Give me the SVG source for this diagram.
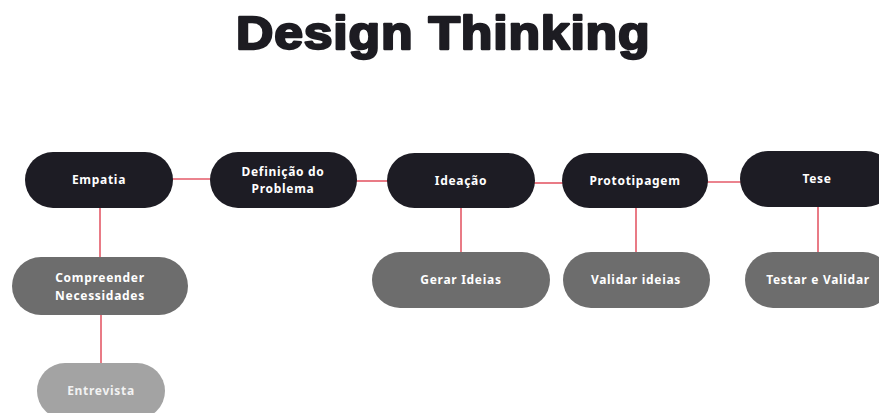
<svg xmlns="http://www.w3.org/2000/svg" width="879" height="413" viewBox="0 0 879 413">
  <style>
    .title { font-family: "Liberation Sans", Arial, sans-serif; font-weight: 700; font-size: 47px; fill: #1d1c22; stroke: #1d1c22; stroke-width: 2.4; stroke-linejoin: round; }
    .stage rect { fill: #1d1c24; }
    .task rect { fill: #6d6d6d; }
    .detail rect { fill: #a3a3a3; }
    .lbl { font-family: "Noto Sans", "DejaVu Sans", sans-serif; font-weight: 700; font-size: 12px; letter-spacing: 0.7px; fill: #ffffff; text-anchor: middle; }
    .detail .lbl { fill: #f2f2f2; }
    .links line { stroke: #e45a68; stroke-width: 1.6; }
  </style>
  <rect width="879" height="413" fill="#ffffff"/>

  <!-- heading, widened glyphs for a heavier look -->
  <text class="title" transform="translate(236,49) scale(1.1,1)" x="0" y="0" textLength="376" lengthAdjust="spacing">Design Thinking</text>

  <!-- connectors -->
  <g class="links">
    <line x1="172" y1="179" x2="211" y2="179"/>
    <line x1="356" y1="181" x2="388" y2="181"/>
    <line x1="534" y1="183" x2="563" y2="183"/>
    <line x1="707" y1="182" x2="741" y2="182"/>
    <line x1="100" y1="207" x2="100" y2="258"/>
    <line x1="101" y1="314" x2="101" y2="364"/>
    <line x1="461" y1="207" x2="461" y2="253"/>
    <line x1="636" y1="207" x2="636" y2="253"/>
    <line x1="818" y1="206" x2="818" y2="253"/>
  </g>

  <!-- main stages -->
  <g id="empatia" class="stage">
    <rect x="25" y="152" width="148" height="56" rx="28"/>
    <text class="lbl" x="99" y="184">Empatia</text>
  </g>
  <g id="definicao" class="stage">
    <rect x="210" y="152" width="147" height="56" rx="28"/>
    <text class="lbl" x="283" y="176">Definição do</text>
    <text class="lbl" x="283" y="193">Problema</text>
  </g>
  <g id="ideacao" class="stage">
    <rect x="387" y="153" width="148" height="55" rx="27.5"/>
    <text class="lbl" x="461" y="185">Ideação</text>
  </g>
  <g id="prototipagem" class="stage">
    <rect x="562" y="153" width="146" height="55" rx="27.5"/>
    <text class="lbl" x="635" y="185">Prototipagem</text>
  </g>
  <g id="tese" class="stage">
    <rect x="740" y="151" width="154" height="56" rx="28"/>
    <text class="lbl" x="817" y="183">Tese</text>
  </g>

  <!-- sub-steps -->
  <g id="compreender" class="task">
    <rect x="12" y="257" width="176" height="58" rx="29"/>
    <text class="lbl" x="100" y="282">Compreender</text>
    <text class="lbl" x="100" y="300">Necessidades</text>
  </g>
  <g id="entrevista" class="detail">
    <rect x="37" y="363" width="128" height="56" rx="28"/>
    <text class="lbl" x="101" y="395">Entrevista</text>
  </g>
  <g id="gerar" class="task">
    <rect x="372" y="252" width="178" height="56" rx="28"/>
    <text class="lbl" x="461" y="284">Gerar Ideias</text>
  </g>
  <g id="validar" class="task">
    <rect x="563" y="252" width="147" height="56" rx="28"/>
    <text class="lbl" x="636" y="284">Validar ideias</text>
  </g>
  <g id="testar" class="task">
    <rect x="745" y="252" width="146" height="56" rx="28"/>
    <text class="lbl" x="818" y="284">Testar e Validar</text>
  </g>
</svg>
